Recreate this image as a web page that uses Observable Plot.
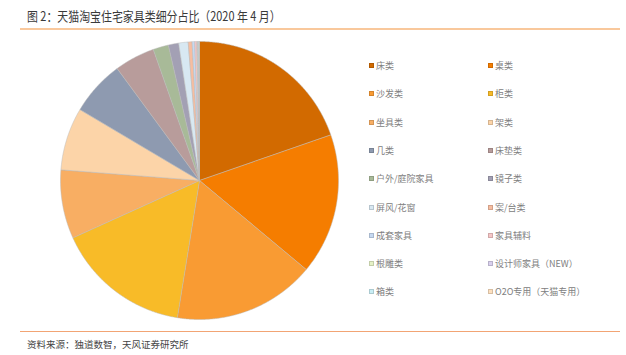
<!DOCTYPE html>
<html>
<head>
<meta charset="utf-8">
<script src="https://cdn.jsdelivr.net/npm/d3@7"></script>
<script src="https://cdn.jsdelivr.net/npm/@observablehq/plot@0.6"></script>
<style>
  html, body { margin: 0; padding: 0; background: #fff; }
  #wrap { position: relative; width: 626px; height: 355px; overflow: hidden; font-family: "Noto Sans CJK SC", "Noto Sans", sans-serif; }
  #title { position: absolute; left: 27px; top: 6px; font-size: 13px; color: #3a3a3a; white-space: nowrap; transform: scaleX(0.84); transform-origin: 0 50%; }
  #rule1 { position: absolute; left: 20px; top: 28px; width: 600px; height: 2px; background: #f9c89c; }
  #rule2 { position: absolute; left: 20px; top: 331px; width: 600px; height: 1px; background: #f2a474; }
  #source { position: absolute; left: 27px; top: 337px; font-size: 9.5px; color: #444; white-space: nowrap; }
  #chart { position: absolute; left: 0; top: 0; }
  #legend { position: absolute; left: 0; top: 0; }
  .li { position: absolute; font-size: 9px; color: #808080; white-space: nowrap; line-height: 12px; }
  .sw { display: inline-block; width: 5px; height: 5px; margin-right: 2px; vertical-align: 1px; border: 0.5px solid rgba(0,0,0,0.15); box-sizing: border-box; }
</style>
</head>
<body>
<div id="wrap">
  <div id="chart"></div>
  <div id="title">图 2：天猫淘宝住宅家具类细分占比（2020 年 4 月）</div>
  <div id="rule1"></div>
  <div id="legend"></div>
  <div id="rule2"></div>
  <div id="source">资料来源：独道数智，天风证券研究所</div>
</div>
<script>
const categories = ["床类","桌类","沙发类","柜类","坐具类","架类","几类","床垫类","户外/庭院家具","镜子类","屏风/花窗","案/台类","成套家具","家具辅料","根雕类","设计师家具（NEW）","箱类","O2O专用（天猫专用）"];
const shares = [19.7, 16.4, 16.5, 15.7, 8.0, 7.3, 6.4, 4.7, 1.8, 1.2, 1.1, 0.45, 0.3, 0.25, 0.1, 0.05, 0.1, 0.05];
const colors = ["#d26a00","#f57d00","#f99b33","#f8bb28","#f8ae63","#fcd4a8","#8e9ab0","#b89c9b","#a8ba98","#a3a0b4","#d8e8f2","#f7bda0","#c6d9f1","#f6c6c6","#e5f1c6","#d9d0ee","#c9eef5","#fde0bf"];

// Build slice outlines from the shares via d3.pie
const pie = d3.pie().sort(null).value(d => d.v);
const arcs = pie(categories.map((c, i) => ({name: c, v: shares[i]})));
const pts = [];
for (const a of arcs) {
  const name = a.data.name;
  pts.push({name, x: 0, y: 0});
  const n = Math.max(2, Math.ceil((a.endAngle - a.startAngle) / (Math.PI / 720)));
  for (let k = 0; k <= n; k++) {
    const t = a.startAngle + (a.endAngle - a.startAngle) * k / n;
    pts.push({name, x: Math.sin(t), y: Math.cos(t)});
  }
  pts.push({name, x: 0, y: 0});
}

const cx = 199, cy = 180, r = 139;
const plot = Plot.plot({
  width: 626,
  height: 355,
  margin: 0,
  x: {domain: [-1, 1], range: [cx - r, cx + r], axis: null},
  y: {domain: [-1, 1], range: [cy + r, cy - r], axis: null},
  color: {domain: categories, range: colors},
  marks: [
    Plot.line(pts, {x: "x", y: "y", z: "name", fill: "name", stroke: "#b8b8b8", strokeWidth: 0.5, curve: "linear"})
  ]
});
document.getElementById("chart").appendChild(plot);

// Legend (two columns)
const leg = document.getElementById("legend");
categories.forEach((c, i) => {
  const col = i % 2, row = Math.floor(i / 2);
  const d = document.createElement("div");
  d.className = "li";
  d.style.left = (col === 0 ? 369 : 488) + "px";
  d.style.top = (60 + row * 28.3) + "px";
  d.innerHTML = `<span class="sw" style="background:${colors[i]}"></span>${c}`;
  leg.appendChild(d);
});
</script>
</body>
</html>
